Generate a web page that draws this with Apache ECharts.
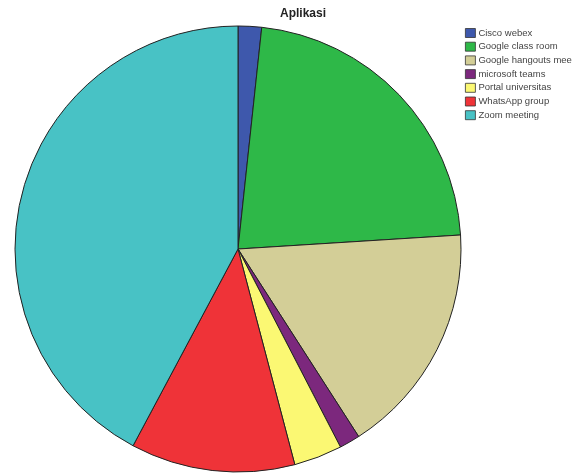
<!DOCTYPE html>
<html><head><meta charset="utf-8">
<script src="https://cdn.jsdelivr.net/npm/echarts@6/dist/echarts.min.js"></script>
<style>html,body{margin:0;padding:0;background:#fff}#c{width:580px;height:476px}</style>
</head><body><div id="c"></div>
<script>
const categories = ["Cisco webex","Google class room","Google hangouts mee","microsoft teams","Portal universitas","WhatsApp group","Zoom meeting"];
const values = [1.7, 22.3, 16.9, 1.5, 3.5, 11.9, 42.2];
const colors = ["#3E58AC","#2EB848","#D3CE97","#7C287D","#FBF873","#EF3338","#48C2C5"];
const chart = echarts.init(document.getElementById('c'), null, {renderer:'canvas'});
chart.setOption({
  animation:false,
  title:{text:'Aplikasi', left:280, top:8, padding:0, textStyle:{fontFamily:'Liberation Sans, Arial', fontSize:12, fontWeight:'bold', color:'#222'}},
  legend:{orient:'vertical', left:465, top:28, padding:0, itemWidth:10, itemHeight:9, itemGap:3.7, icon:'rect',
    textStyle:{fontFamily:'Liberation Sans, Arial', fontSize:9.5, lineHeight:9, color:'#444', padding:[0,0,0,-2]},
    data:categories.map((n,i)=>({name:n, itemStyle:{color:colors[i], borderColor:'#333', borderWidth:0.8}}))},
  series:[{type:'pie', center:[238,249], radius:[0,223], startAngle:90, clockwise:true,
    label:{show:false}, labelLine:{show:false}, emphasis:{disabled:true},
    itemStyle:{borderColor:'#222', borderWidth:1},
    data:categories.map((n,i)=>({name:n, value:values[i], itemStyle:{color:colors[i]}}))}]
});
</script></body></html>
